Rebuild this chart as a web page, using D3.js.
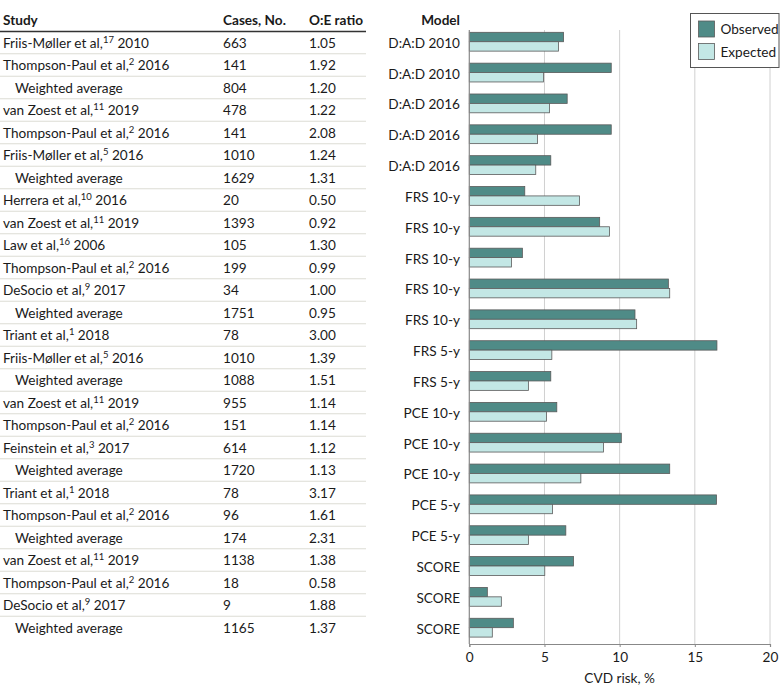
<!DOCTYPE html>
<html>
<head>
<meta charset="utf-8">
<script src="https://cdn.jsdelivr.net/npm/d3@7"></script>
<style>
  html, body { margin: 0; padding: 0; background: #fff; }
  svg { display: block; }
  text { font-family: Lato, "Open Sans", sans-serif; fill: #1a1a1a; }
</style>
</head>
<body>
<svg id="chart" width="780" height="697"></svg>
<script>
// ---- Table data ----
const studyNames = [
  "Friis-Møller et al,", "Thompson-Paul et al,", "Weighted average",
  "van Zoest et al,", "Thompson-Paul et al,", "Friis-Møller et al,", "Weighted average",
  "Herrera et al,", "van Zoest et al,", "Law et al,", "Thompson-Paul et al,", "DeSocio et al,", "Weighted average",
  "Triant et al,", "Friis-Møller et al,", "Weighted average",
  "van Zoest et al,", "Thompson-Paul et al,", "Feinstein et al,", "Weighted average",
  "Triant et al,", "Thompson-Paul et al,", "Weighted average",
  "van Zoest et al,", "Thompson-Paul et al,", "DeSocio et al,", "Weighted average"
];
const studyRefs = ["17","2","", "11","2","5","", "10","11","16","2","9","", "1","5","", "11","2","3","", "1","2","", "11","2","9",""];
const studyYears = ["2010","2016","", "2019","2016","2016","", "2016","2019","2006","2016","2017","", "2018","2016","", "2019","2016","2017","", "2018","2016","", "2019","2016","2017",""];
const cases = ["663","141","804","478","141","1010","1629","20","1393","105","199","34","1751","78","1010","1088","955","151","614","1720","78","96","174","1138","18","9","1165"];
const oeRatio = ["1.05","1.92","1.20","1.22","2.08","1.24","1.31","0.50","0.92","1.30","0.99","1.00","0.95","3.00","1.39","1.51","1.14","1.14","1.12","1.13","3.17","1.61","2.31","1.38","0.58","1.88","1.37"];
const tableHeaders = ["Study", "Cases, No.", "O:E ratio"];

// ---- Bar chart data ----
const models = ["D:A:D 2010","D:A:D 2010","D:A:D 2016","D:A:D 2016","D:A:D 2016",
  "FRS 10-y","FRS 10-y","FRS 10-y","FRS 10-y","FRS 10-y",
  "FRS 5-y","FRS 5-y",
  "PCE 10-y","PCE 10-y","PCE 10-y",
  "PCE 5-y","PCE 5-y",
  "SCORE","SCORE","SCORE"];
const observed = [6.27, 9.44, 6.51, 9.44, 5.42, 3.69, 8.67, 3.53, 13.24, 11.02, 16.47, 5.42, 5.82, 10.11, 13.33, 16.44, 6.42, 6.93, 1.2, 2.93];
const expected = [5.93, 4.93, 5.33, 4.53, 4.42, 7.33, 9.33, 2.8, 13.33, 11.13, 5.49, 3.93, 5.13, 8.93, 7.42, 5.53, 3.93, 5.02, 2.13, 1.53];
const seriesNames = ["Observed", "Expected"];
const seriesColors = ["#4f8b87", "#c3e7e5"];
const xTicks = [0, 5, 10, 15, 20];

const svg = d3.select("#chart");

// ---------------- Table ----------------
const rowScale = d3.scalePoint().domain(d3.range(studyNames.length)).range([42.5, 627.5]);
const colX = { study: 3, cases: 223, oe: 309 };
const tableRight = 366;
const fs = 13.6;

const headG = svg.append("g");
headG.selectAll("text").data(tableHeaders).join("text")
  .attr("x", (d, i) => [colX.study, colX.cases, colX.oe][i])
  .attr("y", 25)
  .attr("font-size", fs).attr("font-weight", "bold")
  .text(d => d);
svg.append("line").attr("x1", 0).attr("x2", tableRight).attr("y1", 31.5).attr("y2", 31.5)
  .attr("stroke", "#333").attr("stroke-width", 1.5);

const step = rowScale.step();
svg.append("g").selectAll("line").data(d3.range(studyNames.length - 1)).join("line")
  .attr("x1", 0).attr("x2", tableRight)
  .attr("y1", i => rowScale(i) + step / 2).attr("y2", i => rowScale(i) + step / 2)
  .attr("stroke", "#dcdcd4").attr("stroke-width", 1.2);

const rows = svg.append("g").selectAll("g").data(d3.range(studyNames.length)).join("g")
  .attr("transform", i => `translate(0,${rowScale(i) + 5})`);
rows.append("text")
  .attr("x", i => studyRefs[i] ? colX.study : colX.study + 12)
  .attr("font-size", fs)
  .each(function(i) {
    const t = d3.select(this);
    t.append("tspan").text(studyNames[i]);
    if (studyRefs[i]) {
      t.append("tspan").attr("dy", -5).attr("font-size", 9.5).text(studyRefs[i]);
      t.append("tspan").attr("dy", 5).text(" " + studyYears[i]);
    }
  });
rows.append("text").attr("x", colX.cases).attr("font-size", fs).text(i => cases[i]);
rows.append("text").attr("x", colX.oe).attr("font-size", fs).text(i => oeRatio[i]);

// ---------------- Bar chart ----------------
const x = d3.scaleLinear().domain([0, 20]).range([469.3, 770]);
const y = d3.scaleBand().domain(d3.range(models.length)).range([26.3, 643.1])
  .paddingInner(0.39).paddingOuter(0.195);
const ySub = d3.scaleBand().domain(seriesNames).range([0, y.bandwidth()]);

const plotTop = 30, plotBottom = 644;

// gridlines
svg.append("g").selectAll("line").data(xTicks.filter(t => t > 0)).join("line")
  .attr("x1", d => x(d)).attr("x2", d => x(d))
  .attr("y1", plotTop).attr("y2", plotBottom)
  .attr("stroke", "#d0d0d0").attr("stroke-width", 1);

// bars
const groups = svg.append("g").selectAll("g").data(d3.range(models.length)).join("g")
  .attr("transform", i => `translate(0,${y(i)})`);
groups.selectAll("rect").data(i => [observed[i], expected[i]].map((v, k) => ({v, k}))).join("rect")
  .attr("x", x(0))
  .attr("y", d => ySub(seriesNames[d.k]))
  .attr("width", d => x(d.v) - x(0))
  .attr("height", ySub.bandwidth())
  .attr("fill", d => seriesColors[d.k])
  .attr("stroke", "#5a5a5a").attr("stroke-width", 0.8);

// model labels
svg.append("g").selectAll("text").data(d3.range(models.length)).join("text")
  .attr("x", 460).attr("y", i => y(i) + y.bandwidth() / 2 + 6)
  .attr("text-anchor", "end").attr("font-size", fs)
  .text(i => models[i]);
svg.append("text").attr("x", 460).attr("y", 25).attr("text-anchor", "end")
  .attr("font-size", fs).attr("font-weight", "bold").text("Model");

// y axis line
svg.append("line").attr("x1", x(0)).attr("x2", x(0)).attr("y1", plotTop).attr("y2", plotBottom)
  .attr("stroke", "#888").attr("stroke-width", 1.2);

// x axis
const xAxis = svg.append("g").attr("transform", `translate(0,${plotBottom})`)
  .call(d3.axisBottom(x).tickValues(xTicks).tickSize(3).tickPadding(5));
xAxis.select(".domain").attr("stroke", "#888").attr("stroke-width", 1.2);
xAxis.selectAll(".tick line").attr("stroke", "#888");
xAxis.selectAll(".tick text").attr("font-size", fs).attr("font-family", "Lato, sans-serif").attr("fill", "#1a1a1a");

svg.append("text").attr("x", (x(0) + x(20)) / 2).attr("y", 683)
  .attr("text-anchor", "middle").attr("font-size", fs).text("CVD risk, %");

// legend
const lg = svg.append("g");
lg.append("rect").attr("x", 690.5).attr("y", 13.5).attr("width", 88.5).attr("height", 54)
  .attr("fill", "#fff").attr("stroke", "#555").attr("stroke-width", 1);
const li = lg.selectAll("g").data(seriesNames).join("g")
  .attr("transform", (d, i) => `translate(698.5,${21 + i * 22.5})`);
li.append("rect").attr("width", 16).attr("height", 16)
  .attr("fill", (d, i) => seriesColors[i]).attr("stroke", "#5a5a5a").attr("stroke-width", 0.8);
li.append("text").attr("x", 22).attr("y", 13).attr("font-size", fs).text(d => d);
</script>
</body>
</html>
